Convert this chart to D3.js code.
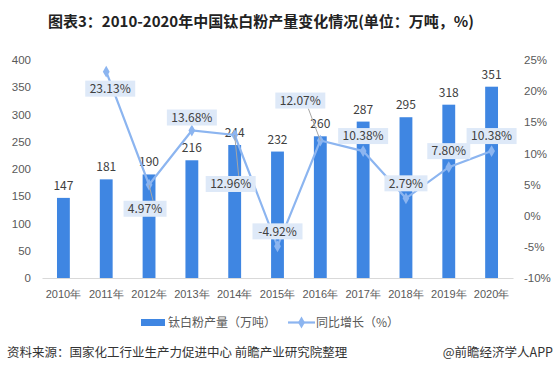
<!DOCTYPE html>
<html><head><meta charset="utf-8">
<script src="https://cdn.jsdelivr.net/npm/d3@7/dist/d3.min.js"></script>
<style>
body{margin:0;background:#fff;}
svg{display:block;font-family:"Microsoft YaHei","Noto Sans CJK SC","DejaVu Sans",sans-serif;}
</style></head><body>
<svg id="c" width="556" height="373"></svg>
<script>
const years = ["2010年","2011年","2012年","2013年","2014年","2015年","2016年","2017年","2018年","2019年","2020年"];
const output = [147,181,190,216,244,232,260,287,295,318,351];
const growth = [null,23.13,4.97,13.68,12.96,-4.92,12.07,10.38,2.79,7.80,10.38];
const leftTicks = [0,50,100,150,200,250,300,350,400];
const rightTicks = [-10,-5,0,5,10,15,20,25];
// label placement (layout only): offset of label center from point
const labelOffsets = [null,[4,17],[-4,24],[0,-13],[-4,49],[0,-15],[-20,-40],[0,-15],[0,-15],[0,-16],[0,-15]];
const leaders = [false,false,true,false,true,false,true,false,false,false,false];

const svg = d3.select("#c");
const barColor = "#3f86e2", lineColor = "#8cb5f0", txt = "#404040";
const x = d3.scaleBand().domain(years).range([42,513]).paddingInner(0.7).paddingOuter(0.35);
const yL = d3.scaleLinear().domain([0,400]).range([278,60]);
const yR = d3.scaleLinear().domain([-10,25]).range([278,60]);
const cx = d => x(d) + x.bandwidth()/2;

svg.append("text").attr("x",261).attr("y",27).attr("text-anchor","middle")
  .attr("font-size",15).attr("font-weight","bold").attr("fill","#222")
  .text("图表3：2010-2020年中国钛白粉产量变化情况(单位：万吨，%)");

// left axis labels
const gl = svg.append("g").attr("transform","translate(31,0)")
  .call(d3.axisLeft(yL).tickValues(leftTicks).tickSize(0).tickPadding(0));
gl.select(".domain").remove();
gl.selectAll("text").attr("font-size",11.5).attr("fill","#595959").attr("font-family","inherit");

const gr = svg.append("g").attr("transform","translate(524,0)")
  .call(d3.axisRight(yR).tickValues(rightTicks).tickSize(0).tickPadding(0).tickFormat(d=>d+"%"));
gr.select(".domain").remove();
gr.selectAll("text").attr("font-size",11.5).attr("fill","#595959").attr("font-family","inherit");

// bars
svg.append("g").selectAll("rect").data(output).join("rect")
  .attr("x",(d,i)=>x(years[i])).attr("width",x.bandwidth())
  .attr("y",d=>yL(d)).attr("height",d=>yL(0)-yL(d)).attr("fill",barColor);

// x axis
const gx = svg.append("g").attr("transform","translate(0,278)")
  .call(d3.axisBottom(x).tickSize(0).tickPadding(12));
gx.select(".domain").attr("stroke","#d9d9d9");
gx.selectAll("text").attr("font-size",11).attr("fill","#595959").attr("font-family","inherit");

// bar labels
svg.append("g").selectAll("text").data(output).join("text")
  .attr("x",(d,i)=>cx(years[i])).attr("y",d=>yL(d)-8).attr("text-anchor","middle")
  .attr("font-size",12).attr("fill",txt).text(d=>d);

// line
const pts = growth.map((g,i)=>g==null?null:{x:cx(years[i]),y:yR(g),v:g,i});
const valid = pts.filter(p=>p);
svg.append("path").attr("d",d3.line().x(p=>p.x).y(p=>p.y)(valid))
  .attr("fill","none").attr("stroke",lineColor).attr("stroke-width",2.2);
svg.append("g").selectAll("path").data(valid).join("path")
  .attr("transform",p=>`translate(${p.x},${p.y})`)
  .attr("d",d3.symbol(d3.symbolDiamond,40)).attr("fill",lineColor);

// growth labels
const lg = svg.append("g");
valid.forEach(p=>{
  const [dx,dy] = labelOffsets[p.i];
  const lx = p.x+dx, ly = p.y+dy;
  const t = p.v.toFixed(2)+"%";
  const w = t.length*7+8, h = 16;
  if(leaders[p.i]){
    const ey = dy>0 ? ly-h/2 : ly+h/2;
    lg.append("line").attr("x1",p.x).attr("y1",p.y).attr("x2",lx+(dx<0?8:0)).attr("y2",ey)
      .attr("stroke","#a6a6a6").attr("stroke-width",1);
  }
  lg.append("rect").attr("x",lx-w/2).attr("y",ly-h/2).attr("width",w).attr("height",h)
    .attr("fill","#dee9f8");
  lg.append("text").attr("x",lx).attr("y",ly+4.3).attr("text-anchor","middle")
    .attr("font-size",12).attr("fill",txt).text(t);
});

// legend
svg.append("rect").attr("x",141).attr("y",319).attr("width",24).attr("height",7).attr("fill",barColor);
svg.append("text").attr("x",168).attr("y",327).attr("font-size",12).attr("fill","#595959").text("钛白粉产量（万吨）");
svg.append("line").attr("x1",288).attr("x2",315).attr("y1",322.5).attr("y2",322.5).attr("stroke",lineColor).attr("stroke-width",2.2);
svg.append("path").attr("transform","translate(301.5,322.5)").attr("d",d3.symbol(d3.symbolDiamond,40)).attr("fill",lineColor);
svg.append("text").attr("x",316).attr("y",327).attr("font-size",12).attr("fill","#595959").text("同比增长（%）");

// footer
svg.append("text").attr("x",7).attr("y",357).attr("font-size",12.5).attr("fill","#333").text("资料来源：国家化工行业生产力促进中心 前瞻产业研究院整理");
svg.append("text").attr("x",553).attr("y",357).attr("text-anchor","end").attr("font-size",12.5).attr("fill","#333").text("@前瞻经济学人APP");
</script></body></html>
